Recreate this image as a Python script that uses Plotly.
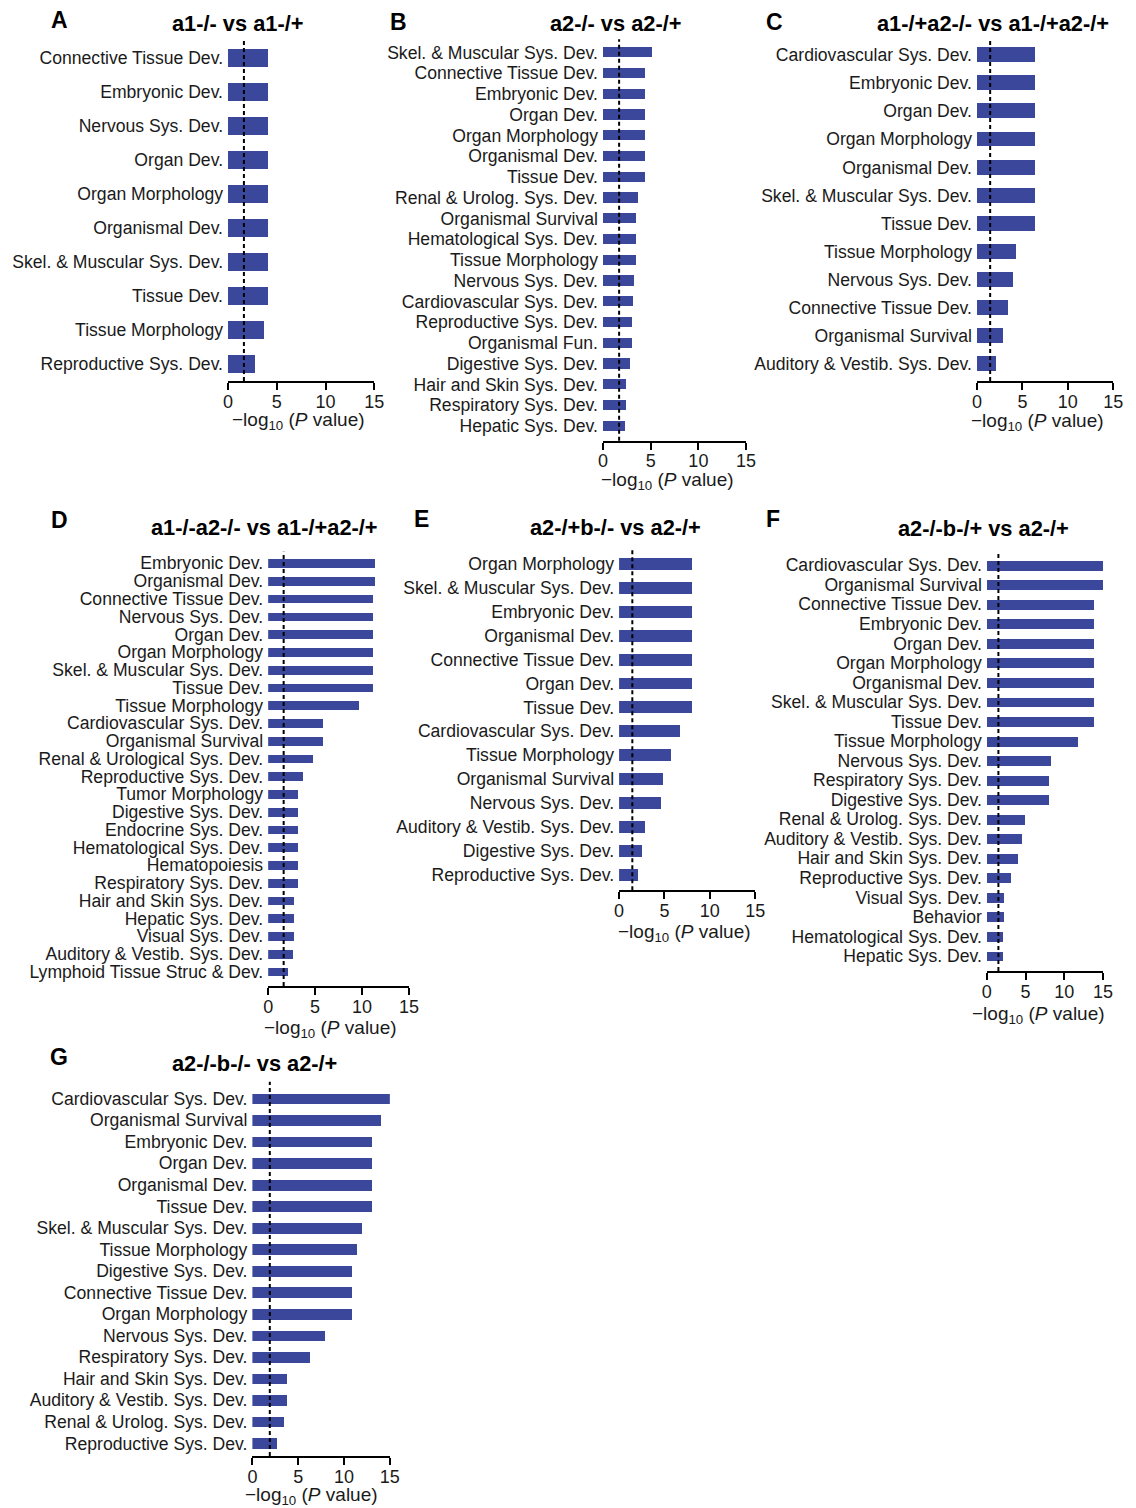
import plotly.graph_objects as go

W, H = 1136, 1508
BAR_COLOR = "#3a479b"
FONT = "Liberation Sans, Arial, Helvetica, sans-serif"

# ---------------- data ----------------
labels_A = ["Connective Tissue Dev.", "Embryonic Dev.", "Nervous Sys. Dev.", "Organ Dev.",
            "Organ Morphology", "Organismal Dev.", "Skel. & Muscular Sys. Dev.", "Tissue Dev.",
            "Tissue Morphology", "Reproductive Sys. Dev."]
values_A = [4.15, 4.15, 4.15, 4.15, 4.15, 4.15, 4.15, 4.15, 3.65, 2.74]

labels_B = ["Skel. & Muscular Sys. Dev.", "Connective Tissue Dev.", "Embryonic Dev.", "Organ Dev.",
            "Organ Morphology", "Organismal Dev.", "Tissue Dev.", "Renal & Urolog. Sys. Dev.",
            "Organismal Survival", "Hematological Sys. Dev.", "Tissue Morphology",
            "Nervous Sys. Dev.", "Cardiovascular Sys. Dev.", "Reproductive Sys. Dev.",
            "Organismal Fun.", "Digestive Sys. Dev.", "Hair and Skin Sys. Dev.",
            "Respiratory Sys. Dev.", "Hepatic Sys. Dev."]
values_B = [5.17, 4.45, 4.45, 4.45, 4.45, 4.45, 4.45, 3.72, 3.41, 3.41, 3.41, 3.2, 3.1, 3.0,
            3.0, 2.79, 2.38, 2.38, 2.28]

labels_C = ["Cardiovascular Sys. Dev.", "Embryonic Dev.", "Organ Dev.", "Organ Morphology",
            "Organismal Dev.", "Skel. & Muscular Sys. Dev.", "Tissue Dev.", "Tissue Morphology",
            "Nervous Sys. Dev.", "Connective Tissue Dev.", "Organismal Survival",
            "Auditory & Vestib. Sys. Dev."]
values_C = [6.41, 6.41, 6.41, 6.41, 6.41, 6.41, 6.41, 4.35, 3.91, 3.37, 2.83, 2.07]

labels_D = ["Embryonic Dev.", "Organismal Dev.", "Connective Tissue Dev.", "Nervous Sys. Dev.",
            "Organ Dev.", "Organ Morphology", "Skel. & Muscular Sys. Dev.", "Tissue Dev.",
            "Tissue Morphology", "Cardiovascular Sys. Dev.", "Organismal Survival",
            "Renal & Urological Sys. Dev.", "Reproductive Sys. Dev.", "Tumor Morphology",
            "Digestive Sys. Dev.", "Endocrine Sys. Dev.", "Hematological Sys. Dev.",
            "Hematopoiesis", "Respiratory Sys. Dev.", "Hair and Skin Sys. Dev.",
            "Hepatic Sys. Dev.", "Visual Sys. Dev.", "Auditory & Vestib. Sys. Dev.",
            "Lymphoid Tissue Struc & Dev."]
values_D = [11.39, 11.39, 11.18, 11.18, 11.18, 11.18, 11.18, 11.18, 9.7, 5.82, 5.82, 4.77,
            3.71, 3.19, 3.19, 3.19, 3.19, 3.19, 3.19, 2.77, 2.77, 2.77, 2.66, 2.14]

labels_E = ["Organ Morphology", "Skel. & Muscular Sys. Dev.", "Embryonic Dev.", "Organismal Dev.",
            "Connective Tissue Dev.", "Organ Dev.", "Tissue Dev.", "Cardiovascular Sys. Dev.",
            "Tissue Morphology", "Organismal Survival", "Nervous Sys. Dev.",
            "Auditory & Vestib. Sys. Dev.", "Digestive Sys. Dev.", "Reproductive Sys. Dev."]
values_E = [8.01, 8.01, 8.01, 8.01, 8.01, 8.01, 8.01, 6.7, 5.72, 4.86, 4.64, 2.9, 2.57, 2.14]

labels_F = ["Cardiovascular Sys. Dev.", "Organismal Survival", "Connective Tissue Dev.",
            "Embryonic Dev.", "Organ Dev.", "Organ Morphology", "Organismal Dev.",
            "Skel. & Muscular Sys. Dev.", "Tissue Dev.", "Tissue Morphology", "Nervous Sys. Dev.",
            "Respiratory Sys. Dev.", "Digestive Sys. Dev.", "Renal & Urolog. Sys. Dev.",
            "Auditory & Vestib. Sys. Dev.", "Hair and Skin Sys. Dev.", "Reproductive Sys. Dev.",
            "Visual Sys. Dev.", "Behavior", "Hematological Sys. Dev.", "Hepatic Sys. Dev."]
values_F = [16.4, 15.9, 13.76, 13.76, 13.76, 13.76, 13.76, 13.76, 13.76, 11.7, 8.28, 8.02, 8.02,
            4.97, 4.46, 3.95, 3.06, 2.17, 2.17, 2.04, 2.04]

labels_G = ["Cardiovascular Sys. Dev.", "Organismal Survival", "Embryonic Dev.", "Organ Dev.",
            "Organismal Dev.", "Tissue Dev.", "Skel. & Muscular Sys. Dev.", "Tissue Morphology",
            "Digestive Sys. Dev.", "Connective Tissue Dev.", "Organ Morphology",
            "Nervous Sys. Dev.", "Respiratory Sys. Dev.", "Hair and Skin Sys. Dev.",
            "Auditory & Vestib. Sys. Dev.", "Renal & Urolog. Sys. Dev.", "Reproductive Sys. Dev."]
values_G = [15.2, 14.03, 13.06, 13.06, 13.06, 13.06, 11.98, 11.44, 10.9, 10.9, 10.9, 8.0, 6.28,
            3.8, 3.8, 3.48, 2.72]

panel_letters = ["A", "B", "C", "D", "E", "F", "G"]
panel_titles = ["a1-/- vs a1-/+", "a2-/- vs a2-/+", "a1-/+a2-/- vs a1-/+a2-/+",
                "a1-/-a2-/- vs a1-/+a2-/+", "a2-/+b-/- vs a2-/+", "a2-/-b-/+ vs a2-/+",
                "a2-/-b-/- vs a2-/+"]
panel_labels = [labels_A, labels_B, labels_C, labels_D, labels_E, labels_F, labels_G]
panel_values = [values_A, values_B, values_C, values_D, values_E, values_F, values_G]
thresholds = [1.63, 1.69, 1.45, 1.65, 1.46, 1.49, 1.9]
x_ticks = [0, 5, 10, 15]
x_title = "\u2212log<sub>10</sub> (<i>P</i> value)"

# ---------------- layout geometry (pixels) ----------------
geom = [
    dict(x0=226.0, x15=374.3, top=40.0, bottom=381.0, c0=58.0, step=34.0, bw=0.52,
         letter=(55, 20), title=(236, 24), axtitle=(297.5, 421)),
    dict(x0=606.0, x15=751.0, top=39.3, bottom=440.7, c0=52.5, step=20.75, bw=0.5,
         letter=(399, 22), title=(618.7, 24), axtitle=(671.7, 481)),
    dict(x0=985.0, x15=1123.0, top=39.3, bottom=381.0, c0=55.0, step=28.1, bw=0.53,
         letter=(780, 22), title=(1001.7, 24), axtitle=(1046.7, 422)),
    dict(x0=266.7, x15=409.3, top=551.7, bottom=986.0, c0=563.3, step=17.76, bw=0.49,
         letter=(55, 519.7), title=(262.5, 527.6), axtitle=(330, 1029)),
    dict(x0=622.3, x15=760.3, top=550.0, bottom=890.3, c0=564.0, step=23.9, bw=0.5,
         letter=(422, 519), title=(618.7, 527.7), axtitle=(688.8, 933)),
    dict(x0=995.0, x15=1112.7, top=552.5, bottom=971.0, c0=565.2, step=19.54, bw=0.51,
         letter=(778, 519), title=(991.7, 528), axtitle=(1047.5, 1015)),
    dict(x0=250.7, x15=390.0, top=1081.7, bottom=1456.0, c0=1098.7, step=21.54, bw=0.5,
         letter=(55, 1057), title=(252.5, 1063.3), axtitle=(310.8, 1496)),
]

fig = go.Figure()
annotations = []
shapes = []
layout_axes = {}

for i in range(7):
    g = geom[i]
    labs = panel_labels[i]
    vals = panel_values[i]
    n = len(labs)
    ax = "" if i == 0 else str(i + 1)
    xname, yname = "x" + ax, "y" + ax

    fig.add_trace(go.Bar(
        x=vals, y=list(range(n)), orientation="h", width=g["bw"],
        marker=dict(color=BAR_COLOR, line=dict(width=0)),
        xaxis=xname, yaxis=yname, cliponaxis=False, showlegend=False,
        customdata=labs, hovertemplate="%{customdata}: %{x}<extra></extra>",
    ))

    layout_axes["xaxis" + ax] = dict(
        domain=[g["x0"] / W, g["x15"] / W], range=[0, 15], anchor=yname,
        tickmode="array", tickvals=x_ticks, ticktext=[str(t) for t in x_ticks],
        ticks="outside", ticklen=7, tickwidth=2, tickcolor="black",
        showline=True, linewidth=2, linecolor="black",
        showgrid=False, zeroline=False, ticklabelstandoff=-4,
        tickfont=dict(family=FONT, size=18, color="#1a1a1a"),
    )
    layout_axes["yaxis" + ax] = dict(
        domain=[1 - g["bottom"] / H, 1 - g["top"] / H],
        range=[(g["bottom"] - g["c0"]) / g["step"], (g["top"] - g["c0"]) / g["step"]],
        anchor=xname, tickmode="array", tickvals=list(range(n)), ticktext=labs,
        ticks="", showline=False, showgrid=False, zeroline=False,
        ticklabelstandoff=4,
        tickfont=dict(family=FONT, size=17.6, color="#1a1a1a"),
    )

    shapes.append(dict(
        type="line", xref=xname, yref=yname + " domain", x0=thresholds[i], x1=thresholds[i],
        y0=0, y1=1, line=dict(color="black", width=2, dash="4px,3px"), layer="above",
    ))

    lx, ly = g["letter"]
    annotations.append(dict(
        text="<b>" + panel_letters[i] + "</b>", x=lx / W, y=1 - ly / H, xref="paper", yref="paper",
        xanchor="center", yanchor="middle", showarrow=False,
        font=dict(family=FONT, size=23, color="black"),
    ))
    tx, ty = g["title"]
    annotations.append(dict(
        text="<b>" + panel_titles[i] + "</b>", x=tx / W, y=1 - ty / H, xref="paper", yref="paper",
        xanchor="center", yanchor="middle", showarrow=False,
        font=dict(family=FONT, size=21.8, color="black"),
    ))
    axx, axy = g["axtitle"]
    annotations.append(dict(
        text=x_title, x=axx / W, y=1 - axy / H, xref="paper", yref="paper",
        xanchor="center", yanchor="middle", showarrow=False,
        font=dict(family=FONT, size=19, color="#1a1a1a"),
    ))

fig.update_layout(
    width=W, height=H, autosize=False,
    margin=dict(l=0, r=0, t=0, b=0, pad=0),
    paper_bgcolor="white", plot_bgcolor="white",
    showlegend=False, bargap=0,
    annotations=annotations, shapes=shapes,
    font=dict(family=FONT, size=17, color="#1a1a1a"),
    **layout_axes,
)

fig.write_html("out.html")
